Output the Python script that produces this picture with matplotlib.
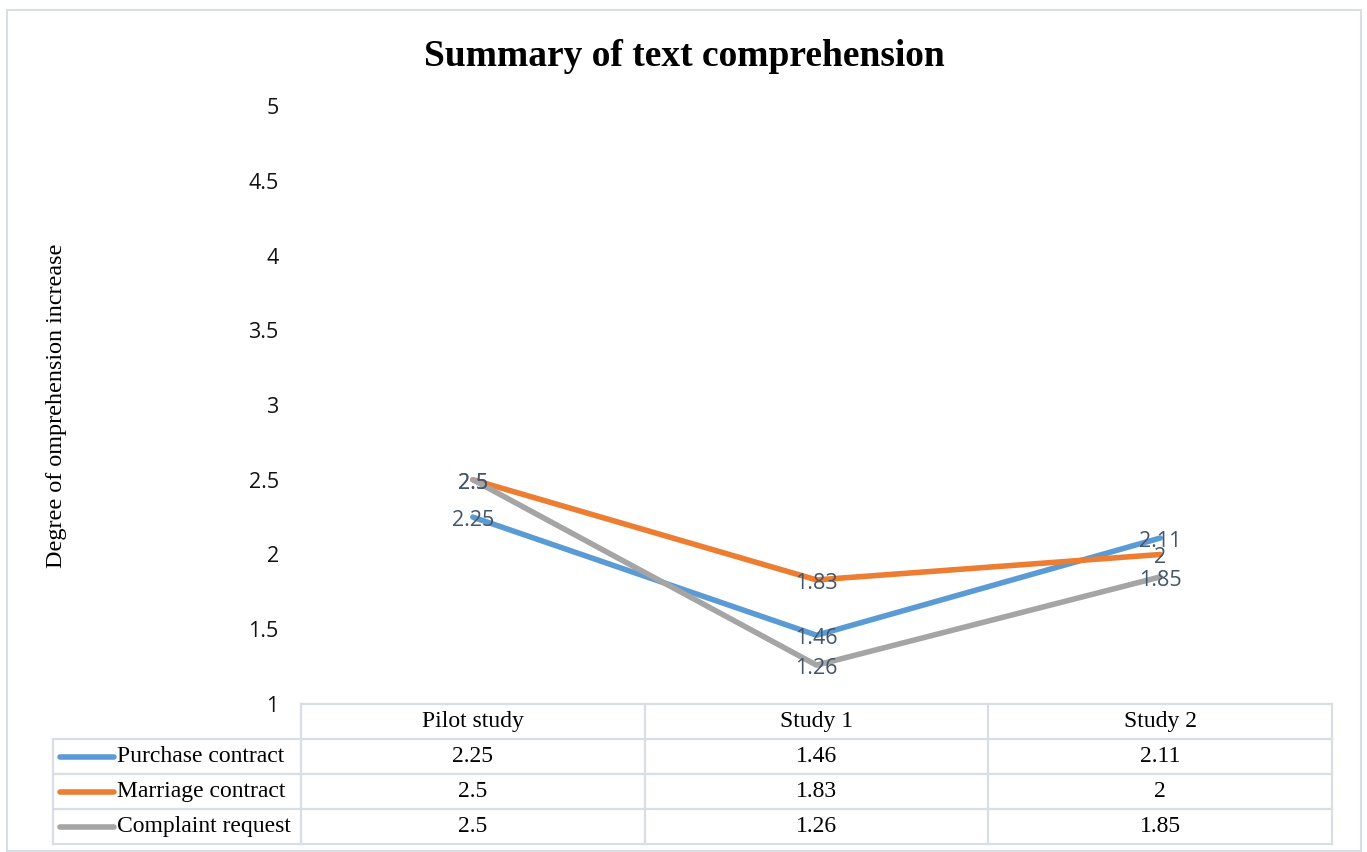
import matplotlib
matplotlib.use("Agg")
import matplotlib.pyplot as plt
from matplotlib.lines import Line2D
from matplotlib.patches import Rectangle

# ---- data ----
categories = ["Pilot study", "Study 1", "Study 2"]
series_names = ["Purchase contract", "Marriage contract", "Complaint request"]
purchase = [2.25, 1.46, 2.11]
marriage = [2.5, 1.83, 2.0]
complaint = [2.5, 1.26, 1.85]
y_ticks = [1, 1.5, 2, 2.5, 3, 3.5, 4, 4.5, 5]

series_values = [purchase, marriage, complaint]
colors = ["#5B9BD5", "#ED7D31", "#A5A5A5"]

W, H = 1367, 852
fig = plt.figure(figsize=(W / 100, H / 100), dpi=100)
fig.patch.set_facecolor("white")


def fx(px):
    return px / W


def fy(py):
    return 1 - py / H


# chart frame
fig.add_artist(Rectangle((fx(7), fy(851)), fx(1361) - fx(7), fy(10) - fy(851),
                         transform=fig.transFigure, fill=False,
                         edgecolor="#D9DEE6", linewidth=1.5))

# plot area
ax_left, ax_right, ax_top, ax_bottom = 301, 1332, 106, 704
ax = fig.add_axes([fx(ax_left), fy(ax_bottom), fx(ax_right) - fx(ax_left),
                   fy(ax_top) - fy(ax_bottom)])
ax.set_xlim(-0.5, len(categories) - 0.5)
ax.set_ylim(1, 5)
ax.set_yticks(y_ticks)
ax.set_yticklabels([f"{t:g}" for t in y_ticks], fontfamily="Open Sans",
                   fontsize=15.5, color="#111111")
ax.tick_params(axis="y", length=0, pad=16)
ax.set_xticks([])
for s in ax.spines.values():
    s.set_visible(False)

x = list(range(len(categories)))
label_color = "#44546A"
for vals, col in zip(series_values, colors):
    ax.plot(x, vals, color=col, linewidth=4, solid_capstyle="round", zorder=2)
    for xi, v in zip(x, vals):
        ax.annotate(f"{v:g}", (xi, v), xytext=(0, -2.5), textcoords="offset points",
                    ha="center", va="center", fontfamily="Open Sans",
                    fontsize=15.5, color=label_color, zorder=3)

fig.text(fx(684), fy(66), "Summary of text comprehension", ha="center", va="baseline",
         fontfamily="Liberation Serif", fontweight="bold", fontsize=27, color="black")
fig.text(fx(57), fy(406), "Degree of omprehension increase", ha="center", va="center",
         rotation=90, fontfamily="Liberation Serif", fontsize=17.4, color="black")

# data table under the plot
grid_color = "#D9DEE6"
row_edges = [704, 739, 774, 809, 844]
tbl_left = 53
col_w = (ax_right - ax_left) / len(categories)
col_edges = [ax_left + i * col_w for i in range(len(categories) + 1)]


def hline(y, x0, x1):
    fig.add_artist(Line2D([fx(x0), fx(x1)], [fy(y), fy(y)], transform=fig.transFigure,
                          color=grid_color, linewidth=1.6))


def vline(xp, y0, y1):
    fig.add_artist(Line2D([fx(xp), fx(xp)], [fy(y0), fy(y1)], transform=fig.transFigure,
                          color=grid_color, linewidth=1.6))


hline(row_edges[0], ax_left, ax_right)
for y in row_edges[1:]:
    hline(y, tbl_left, ax_right)
vline(tbl_left, row_edges[1], row_edges[-1])
for xe in col_edges:
    vline(xe, row_edges[0], row_edges[-1])

tfont = dict(fontfamily="Liberation Serif", fontsize=17, color="black")
for j, cat in enumerate(categories):
    cx = (col_edges[j] + col_edges[j + 1]) / 2
    fig.text(fx(cx), fy((row_edges[0] + row_edges[1]) / 2), cat,
             ha="center", va="center", **tfont)
for i, (name, vals, col) in enumerate(zip(series_names, series_values, colors)):
    cy = (row_edges[i + 1] + row_edges[i + 2]) / 2
    fig.add_artist(Line2D([fx(60), fx(114)], [fy(cy), fy(cy)], transform=fig.transFigure,
                          color=col, linewidth=4, solid_capstyle="round"))
    fig.text(fx(117), fy(cy), name, ha="left", va="center", **tfont)
    for j, v in enumerate(vals):
        cx = (col_edges[j] + col_edges[j + 1]) / 2
        fig.text(fx(cx), fy(cy), f"{v:g}", ha="center", va="center", **tfont)

fig.savefig("out.png", dpi=100, facecolor="white")
